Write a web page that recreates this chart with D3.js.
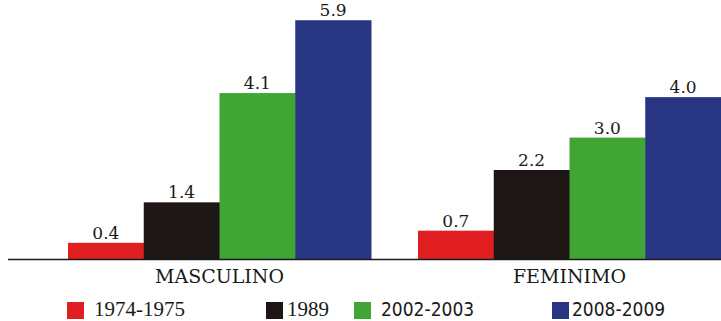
<!DOCTYPE html>
<html>
<head>
<meta charset="utf-8">
<script src="https://cdn.jsdelivr.net/npm/d3@7"></script>
<style>
  html, body { margin: 0; padding: 0; background: #fff; }
  svg { display: block; }
</style>
</head>
<body>
<svg id="chart" width="721" height="321"></svg>
<script>
// Grouped bars: two sex groups, four survey periods each
const groups = ["MASCULINO", "FEMINIMO"];
const periods = ["1974-1975", "1989", "2002-2003", "2008-2009"];
const masculino = [0.4, 1.4, 4.1, 5.9];
const feminimo = [0.7, 2.2, 3.0, 4.0];
const colors = ["#e11f22", "#1c1714", "#40a535", "#283583"];

const values = { MASCULINO: masculino, FEMINIMO: feminimo };

const W = 721, H = 321;
const baseY = 259;

const svg = d3.select("#chart");

const x0 = d3.scaleBand()
  .domain(groups)
  .range([68, 721])
  .paddingInner(47 / 350)
  .paddingOuter(0)
  .align(0);

const x1 = d3.scaleBand()
  .domain(periods)
  .range([0, x0.bandwidth()])
  .padding(0);

const y = d3.scaleLinear()
  .domain([0, 6.4])
  .range([baseY, 0]);

const g = svg.selectAll("g.group")
  .data(groups)
  .join("g")
  .attr("class", "group")
  .attr("transform", d => `translate(${x0(d)},0)`);

g.selectAll("rect")
  .data(grp => periods.map((p, i) => ({ p, i, v: values[grp][i] })))
  .join("rect")
  .attr("x", d => x1(d.p))
  .attr("width", x1.bandwidth() + 0.5)
  .attr("y", d => y(d.v))
  .attr("height", d => y(0) - y(d.v))
  .attr("fill", d => colors[d.i]);

g.selectAll("text.val")
  .data(grp => periods.map((p, i) => ({ p, i, v: values[grp][i] })))
  .join("text")
  .attr("class", "val")
  .attr("x", d => x1(d.p) + x1.bandwidth() / 2)
  .attr("y", d => y(d.v) - 4)
  .attr("text-anchor", "middle")
  .attr("font-family", "'DejaVu Serif', serif")
  .attr("font-size", 17)
  .attr("fill", "#1a1a1a")
  .text(d => d3.format(".1f")(d.v));

// Baseline axis with group names underneath
const axis = d3.axisBottom(x0).tickSize(0).tickPadding(6);
const axG = svg.append("g")
  .attr("transform", `translate(0,${baseY})`)
  .call(axis);
axG.select(".domain").remove();
axG.selectAll("text")
  .attr("font-family", "'DejaVu Serif', serif")
  .attr("font-size", 19)
  .attr("fill", "#1a1a1a")
  .attr("dy", "0.95em");

svg.append("line")
  .attr("x1", 8).attr("x2", W)
  .attr("y1", baseY + 0.5).attr("y2", baseY + 0.5)
  .attr("stroke", "#1a1a1a")
  .attr("stroke-width", 1.6);

// Legend
const legendSwatchX = [67, 266, 354, 552];
const legendTextX = [94, 287, 381, 572];
const legendFonts = [
  { family: "'Liberation Serif', serif", size: 21, stretch: "normal" },
  { family: "'Liberation Serif', serif", size: 21, stretch: "normal" },
  { family: "'DejaVu Sans Condensed', 'DejaVu Sans', sans-serif", size: 19, stretch: "condensed" },
  { family: "'DejaVu Sans Condensed', 'DejaVu Sans', sans-serif", size: 19, stretch: "condensed" }
];

const lg = svg.append("g");
lg.selectAll("rect")
  .data(periods)
  .join("rect")
  .attr("x", (d, i) => legendSwatchX[i])
  .attr("y", 302)
  .attr("width", 17)
  .attr("height", 17)
  .attr("fill", (d, i) => colors[i]);

lg.selectAll("text")
  .data(periods)
  .join("text")
  .attr("x", (d, i) => legendTextX[i])
  .attr("y", 316)
  .attr("font-family", (d, i) => legendFonts[i].family)
  .attr("font-size", (d, i) => legendFonts[i].size)
  .attr("font-stretch", (d, i) => legendFonts[i].stretch)
  .attr("fill", "#1a1a1a")
  .text(d => d);
</script>
</body>
</html>
